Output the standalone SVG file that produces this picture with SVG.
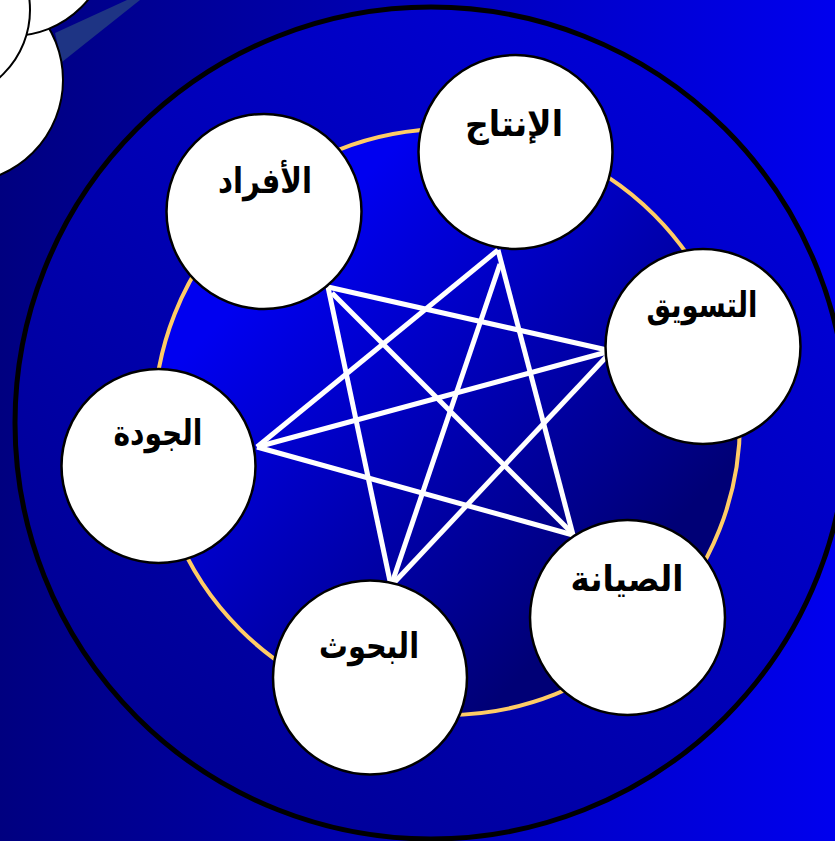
<svg xmlns="http://www.w3.org/2000/svg" width="835" height="841" viewBox="0 0 835 841">
<defs>
<linearGradient id="bg" x1="0" y1="0" x2="1" y2="0">
<stop offset="0" stop-color="#000080"/>
<stop offset="1" stop-color="#0000EE"/>
</linearGradient>
<linearGradient id="ring" x1="0" y1="1" x2="1" y2="0">
<stop offset="0" stop-color="#000088"/>
<stop offset="1" stop-color="#0000E4"/>
</linearGradient>
<linearGradient id="core" x1="0.1" y1="0.1" x2="0.9" y2="0.9">
<stop offset="0.15" stop-color="#0000F0"/>
<stop offset="0.85" stop-color="#000076"/>
</linearGradient>
<style>
.node{fill:#FFFFFF;stroke:#000000;stroke-width:2.5}
.lbl{font-family:"DejaVu Sans",sans-serif;font-weight:bold;font-size:35px;fill:#000000;text-anchor:middle}
.edge{stroke:#FFFFFF;stroke-width:5;fill:none}
.deco{fill:#FFFFFF;stroke:#000000;stroke-width:2}
</style>
</defs>
<rect x="0" y="0" width="835" height="841" fill="url(#bg)"/>
<g id="corner">
<polygon points="127,0 140,0 62,62 55,33" fill="#1E3484"/>
<circle class="deco" cx="-40" cy="80" r="103"/>
<circle class="deco" cx="12" cy="-62" r="98"/>
<circle class="deco" cx="-60" cy="10" r="90"/>
</g>
<circle id="outer" cx="431" cy="423" r="416" fill="url(#ring)" stroke="#000000" stroke-width="5"/>
<circle id="inner" cx="447" cy="422" r="293" fill="url(#core)" stroke="#FFCC66" stroke-width="4"/>
<g id="connectors">
<line class="edge" x1="328" y1="287" x2="607" y2="350"/>
<line class="edge" x1="332" y1="293" x2="572" y2="533"/>
<line class="edge" x1="328" y1="287" x2="391" y2="586"/>
<line class="edge" x1="498" y1="250" x2="257" y2="447"/>
<line class="edge" x1="498" y1="250" x2="573" y2="535"/>
<line class="edge" x1="500" y1="264" x2="391" y2="586"/>
<line class="edge" x1="607" y1="352" x2="257" y2="447"/>
<line class="edge" x1="608" y1="355" x2="391" y2="586"/>
<line class="edge" x1="257" y1="447" x2="573" y2="535"/>
</g>
<g id="n-production">
<circle class="node" cx="515.5" cy="152" r="97"/>
<text class="lbl" x="514" y="136" textLength="98" lengthAdjust="spacingAndGlyphs">الإنتاج</text>
</g>
<g id="n-people">
<circle class="node" cx="264" cy="211.5" r="97.5"/>
<text class="lbl" x="265" y="193" textLength="94" lengthAdjust="spacingAndGlyphs">الأفراد</text>
</g>
<g id="n-marketing">
<circle class="node" cx="703" cy="346.5" r="97.5"/>
<text class="lbl" x="702" y="317" textLength="111" lengthAdjust="spacingAndGlyphs">التسويق</text>
</g>
<g id="n-quality">
<circle class="node" cx="158.5" cy="466" r="97"/>
<text class="lbl" x="158" y="445" textLength="89" lengthAdjust="spacingAndGlyphs">الجودة</text>
</g>
<g id="n-maintenance">
<circle class="node" cx="627.5" cy="617.5" r="97.5"/>
<text class="lbl" x="627" y="591" textLength="113" lengthAdjust="spacingAndGlyphs">الصيانة</text>
</g>
<g id="n-research">
<circle class="node" cx="370" cy="677.5" r="97"/>
<text class="lbl" x="369" y="658" textLength="100" lengthAdjust="spacingAndGlyphs">البحوث</text>
</g>
</svg>
